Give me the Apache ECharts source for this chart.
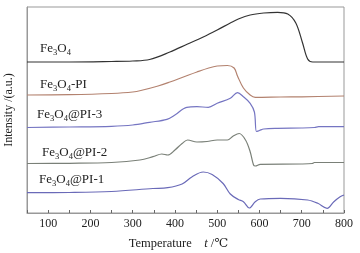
<!DOCTYPE html>
<html><head><meta charset="utf-8">
<script src="https://cdn.jsdelivr.net/npm/echarts@6/dist/echarts.min.js"></script>
<style>html,body{margin:0;padding:0;background:#fff}#c{width:360px;height:253px}</style>
</head><body><div id="c"></div>
<script>
// Temperatures (°C) and intensities (a.u., arbitrary stacked offsets)
const fe3o4_T = [50,150,250,300,340,388,430,467,500,531,550,578,610,643,667,686,702,714,726,800];
const fe3o4_I = [62,62,61.5,61,59.5,52,44,37,30,23,19,15,13,12.3,14,23,43,59,62,62];

const fe3o4PI_T = [50,150,250,300,324,360,388,420,452,480,500,524,540,548,562,578,590,650,700,800];
const fe3o4PI_I = [95,94.7,93.5,92,90,86,82,77,72,68,66,65.5,68,76,88,95,97.3,97,96.8,96];

const pi3_T = [50,150,250,300,340,381,400,428,452,479,500,531,548,562,578,588,593,600,610,643,700,730,740,800];
const pi3_I = [127.5,127,126.3,125,122.3,119.3,115,107.3,106.7,107.3,103.3,98.3,92.7,96.7,103.3,112,131.5,130.5,129,128.3,128,127.5,126.7,126.7];

const pi2_T = [50,150,250,317,348,369,383,400,417,430,452,476,500,524,538,552,567,578,586,590,602,700,725,730,800];
const pi2_I = [163.5,163.3,162.5,160,156.7,154,155,150,143.5,140,142,141.5,140,140,136,133.5,140,151.7,165,166,164.3,164,163.5,162.5,162.5];

const pi1_T = [50,150,250,348,383,417,440,467,488,514,531,550,562,576,590,602,650,714,738,760,776,790,800];
const pi1_I = [192.7,192.5,191.5,188.5,187.7,184,177,172,174.5,183.5,194,199.5,201.7,208,201.7,199,198.3,200,203.3,208.3,201.7,197,195];

const xTicks = [100,200,300,400,500,600,700,800];

const BASE = 213;
function pts(T, I){ return T.map((t,i)=>[t, BASE - I[i]]); }

const chart = echarts.init(document.getElementById('c'));
const serif = '"Liberation Serif","DejaVu Serif",serif';
function mkSeries(T,I,color){
  return {type:'line', data:pts(T,I), smooth:0.35, symbol:'none',
    lineStyle:{color:color,width:1.2}, animation:false};
}
function lbl(x,y,tail){
  return {type:'text', left:x, top:y, style:{
    text:'{n|Fe}{s|3}{n|O}{s|4}{n|'+tail+'}',
    rich:{n:{fontFamily:serif,fontSize:13,fill:'#222'},
          s:{fontFamily:serif,fontSize:8.5,fill:'#222',padding:[8,0,0,0]}}}};
}
chart.setOption({
  animation:false,
  grid:{left:27,right:16,top:7,bottom:40,show:true,borderColor:'#999',borderWidth:1,
    containLabel:false,outerBoundsMode:'none'},
  xAxis:{type:'value',min:50,max:800,interval:50,
    axisLine:{lineStyle:{color:'#999'}},
    axisTick:{inside:true,length:3,lineStyle:{color:'#666'}},
    splitLine:{show:false},
    axisLabel:{fontFamily:serif,fontSize:12,color:'#222',margin:5,
      formatter:v=>xTicks.includes(v)?String(v):''},
    name:'Temperature    {i|t} /℃',nameLocation:'middle',nameGap:24,
    nameTextStyle:{fontFamily:serif,fontSize:12.5,color:'#222',padding:[0,14,0,0],
      rich:{i:{fontFamily:serif,fontStyle:'italic',fontSize:12.5,color:'#222'}}}},
  yAxis:{type:'value',min:0,max:206,
    axisLine:{show:true,lineStyle:{color:'#999'}},axisTick:{show:false},
    axisLabel:{show:false},splitLine:{show:false},
    name:'Intensity /(a.u.)',nameLocation:'middle',nameGap:12,
    nameTextStyle:{fontFamily:serif,fontSize:12,color:'#222'}},
  series:[
    mkSeries(fe3o4_T,fe3o4_I,'#333333'),
    mkSeries(fe3o4PI_T,fe3o4PI_I,'#b3826f'),
    mkSeries(pi3_T,pi3_I,'#7575c2'),
    mkSeries(pi2_T,pi2_I,'#7a8078'),
    mkSeries(pi1_T,pi1_I,'#6a6ab8')
  ],
  graphic:[
    lbl(40,42,''),
    lbl(40,78,'-PI'),
    lbl(37,108,'@PI-3'),
    lbl(42,146,'@PI-2'),
    lbl(39,173,'@PI-1')
  ]
});
</script></body></html>
